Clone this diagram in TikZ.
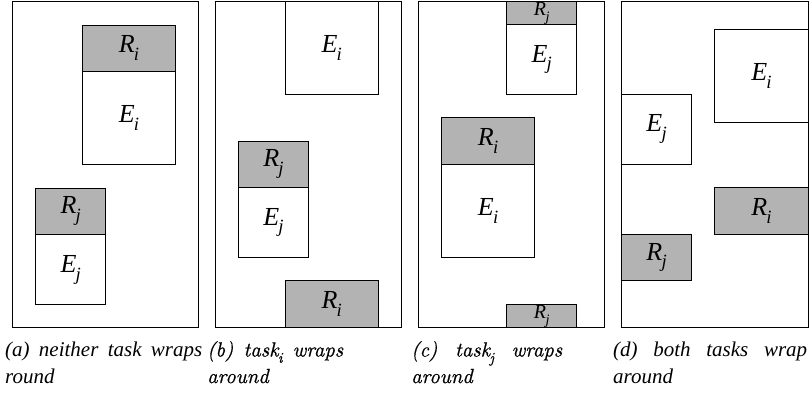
\documentclass[tikz,border=0pt]{standalone}
\usepackage{fontspec}
\usetikzlibrary{positioning}
\newfontfamily\tnr{Liberation Serif}
\newfontfamily\lmten{lmroman10-regular.otf}[ItalicFont=lmroman10-italic.otf, ItalicFeatures={FakeBold=0.6}]
\definecolor{resgray}{RGB}{179,179,179}
% task label with a lowered index
\newcommand{\tsub}[2]{#1\kern-0.03em\raisebox{-0.3em}{\scalebox{0.72}{#2}}}
\tikzset{
  frame/.style={draw, line width=0.8pt},
  resbox/.style={draw, line width=0.8pt, fill=resgray},
  exebox/.style={draw, line width=0.8pt, fill=white},
  lab/.style={inner sep=0pt, font=\tnr\itshape\fontsize{26}{26}\selectfont},
  smalllab/.style={inner sep=0pt, font=\tnr\itshape\fontsize{20}{20}\selectfont},
  subcap/.style={anchor=base west, inner sep=0pt, font=\lmten\itshape\fontsize{20.5}{25}\selectfont},
  tsubcap/.style={subcap, font=\tnr\itshape\fontsize{21}{25}\selectfont}
}
\begin{document}
\begin{tikzpicture}[x=23.3pt, y=-23.3pt]
  \useasboundingbox (0,0) rectangle (34.807,16.91);
  % (a) no wrap
  \begin{scope}[shift={(0.536,0.07)}]
    \draw[frame] (0,0) rectangle (8,14);
    \draw[resbox] (3,1) rectangle (7,3);
    \draw[exebox] (3,3) rectangle (7,7);
    \draw[resbox] (1,8) rectangle (4,10);
    \draw[exebox] (1,10) rectangle (4,13);
    \node[lab] (a-ri) at (5,2) {\tsub{R}{i}};
    \node[lab] (a-ei) at (5,5) {\tsub{E}{i}};
    \node[lab] (a-rj) at (2.5,9) {\tsub{R}{j}};
    \node[lab] (a-ej) at (2.5,11.5) {\tsub{E}{j}};
  \end{scope}
  % (b) task i wraps
  \begin{scope}[shift={(9.24,0.05)}]
    \draw[frame] (0,0) rectangle (8,14);
    \draw[exebox] (3,0) rectangle (7,4);
    \draw[resbox] (1,6) rectangle (4,8);
    \draw[exebox] (1,8) rectangle (4,11);
    \draw[resbox] (3,12) rectangle (7,14);
    \node[lab] (b-ei) at (5,2) {\tsub{E}{i}};
    \node[lab] (b-rj) at (2.5,7) {\tsub{R}{j}};
    \node[lab] (b-ej) at (2.5,9.5) {\tsub{E}{j}};
    \node[lab] (b-ri) at (5,13) {\tsub{R}{i}};
  \end{scope}
  % (c) task j wraps
  \begin{scope}[shift={(17.95,0.05)}]
    \draw[frame] (0,0) rectangle (8,14);
    \draw[resbox] (3.8,0) rectangle (6.8,1);
    \draw[exebox] (3.8,1) rectangle (6.8,4);
    \draw[resbox] (1,5) rectangle (5,7);
    \draw[exebox] (1,7) rectangle (5,11);
    \draw[resbox] (3.8,13) rectangle (6.8,14);
    \node[smalllab] (c-rj1) at (5.3,0.55) {\tsub{R}{j}};
    \node[lab] (c-ej) at (5.3,2.5) {\tsub{E}{j}};
    \node[lab] (c-ri) at (3,6) {\tsub{R}{i}};
    \node[lab] (c-ei) at (3,9) {\tsub{E}{i}};
    \node[smalllab] (c-rj2) at (5.3,13.55) {\tsub{R}{j}};
  \end{scope}
  % (d) both wrap
  \begin{scope}[shift={(26.68,0.05)}]
    \draw[frame] (0,0) rectangle (8,14);
    \draw[exebox] (4,1.2) rectangle (8,5.2);
    \draw[exebox] (0,4) rectangle (3,7);
    \draw[resbox] (4,8) rectangle (8,10);
    \draw[resbox] (0,10) rectangle (3,12);
    \node[lab] (d-ei) at (6,3.2) {\tsub{E}{i}};
    \node[lab] (d-ej) at (1.5,5.5) {\tsub{E}{j}};
    \node[lab] (d-ri) at (6,9) {\tsub{R}{i}};
    \node[lab] (d-rj) at (1.5,11) {\tsub{R}{j}};
  \end{scope}
  % captions
  \node[tsubcap] (capa) at (0.215,15.30) {\makebox[197pt][s]{(a) neither task wraps}};
  \node[tsubcap] (capa2) at (0.215,16.44) {round};
  \node[subcap] (capb) at (8.884,15.30) {\makebox[136pt][s]{(b) \tsub{task}{i} wraps}};
  \node[subcap] (capb2) at (8.884,16.44) {around};
  \node[subcap] (capc) at (17.64,15.30) {\makebox[151pt][s]{(c) \tsub{task}{j} wraps}};
  \node[subcap] (capc2) at (17.64,16.44) {around};
  \node[tsubcap] (capd) at (26.31,15.30) {\makebox[194pt][s]{(d) both tasks wrap}};
  \node[tsubcap] (capd2) at (26.31,16.44) {around};
\end{tikzpicture}
\end{document}
